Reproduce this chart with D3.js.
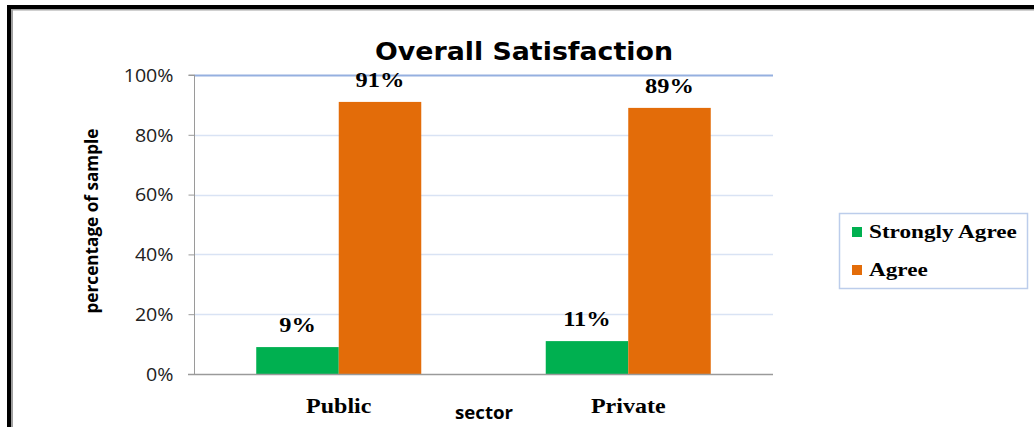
<!DOCTYPE html>
<html><head><meta charset="utf-8">
<script src="https://cdn.jsdelivr.net/npm/d3@7"></script>
<style>body{margin:0;background:#fff}svg{display:block}</style>
</head><body>
<svg id="c" width="1034" height="427"></svg>
<script>
const categories = ["Public", "Private"];
const seriesNames = ["Strongly Agree", "Agree"];
const strongly = [9, 11];
const agree = [91, 89];
const yTicks = [0, 20, 40, 60, 80, 100];
const colors = ["#00B050", "#E36C09"];

const svg = d3.select("#c");
function stretch(sel, f) {
  sel.each(function () {
    const L = this.getComputedTextLength();
    d3.select(this).attr("textLength", L * f).attr("lengthAdjust", "spacingAndGlyphs");
  });
}
// frame
svg.append("rect").attr("x", 7).attr("y", 5).attr("width", 1040).attr("height", 440).attr("fill", "#000");
svg.append("rect").attr("x", 11).attr("y", 9).attr("width", 1040).attr("height", 440).attr("fill", "#a0a0a0");
svg.append("rect").attr("x", 13).attr("y", 10.5).attr("width", 1040).attr("height", 440).attr("fill", "#fff");

const x0 = 194, x1 = 773, yTop = 75, yBot = 374;
const y = d3.scaleLinear().domain([0, 100]).range([yBot, yTop]);
const xb = d3.scaleBand().domain(categories).range([x0, x1]).paddingInner(0.43).paddingOuter(0.215);
const xs = d3.scaleBand().domain(seriesNames).range([0, xb.bandwidth()]);

// gridlines
svg.append("g").selectAll("line").data(yTicks.filter(t => t > 0)).join("line")
  .attr("x1", x0).attr("x2", x1).attr("y1", d => Math.round(y(d)) + 0.5).attr("y2", d => Math.round(y(d)) + 0.5)
  .attr("stroke", d => d === 100 ? "#95B0E0" : "#D9E3F4").attr("stroke-width", d => d === 100 ? 2 : 1.5);

// y axis
const ya = d3.axisLeft(y).tickValues(yTicks).tickFormat(d => d + "%").tickSize(6).tickPadding(15);
const yg = svg.append("g").attr("transform", `translate(${x0 + 0.5},0)`).call(ya);
yg.select(".domain").attr("stroke", "#9a9a9a").attr("d", `M-6,${yTop}H0V${yBot}`);
yg.selectAll(".tick line").attr("stroke", "#9a9a9a");
yg.selectAll(".tick text").attr("font-family", "'Open Sans', 'Liberation Sans', sans-serif")
  .attr("font-size", 17.5).attr("fill", "#222").attr("dy", "0.36em");
stretch(yg.selectAll(".tick text"), 1.12);

const data = categories.map((c, i) => ({c, vals: [strongly[i], agree[i]]}));
const groups = svg.append("g").selectAll("g").data(data).join("g")
  .attr("transform", d => `translate(${xb(d.c)},0)`);
groups.selectAll("rect").data(d => d.vals.map((v, j) => ({v, s: seriesNames[j], j}))).join("rect")
  .attr("x", d => xs(d.s)).attr("width", xs.bandwidth())
  .attr("y", d => y(d.v)).attr("height", d => yBot - y(d.v))
  .attr("fill", d => colors[d.j]);
const vl = groups.selectAll("text").data(d => d.vals.map((v, j) => ({v, s: seriesNames[j]}))).join("text")
  .attr("x", d => xs(d.s) + xs.bandwidth() / 2).attr("y", d => y(d.v) - 15)
  .attr("text-anchor", "middle").attr("font-family", "'Liberation Serif', serif").attr("font-weight", "bold")
  .attr("font-size", 20).attr("fill", "#000").text(d => d.v + "%");
stretch(vl, 1.22);

// x axis baseline
svg.append("line").attr("x1", x0 - 6).attr("x2", x1).attr("y1", yBot + 0.5).attr("y2", yBot + 0.5)
  .attr("stroke", "#9a9a9a").attr("stroke-width", 1.5);

// category labels
const cl = svg.append("g").selectAll("text").data(categories).join("text")
  .attr("x", d => xb(d) + xb.bandwidth() / 2).attr("y", 413)
  .attr("text-anchor", "middle").attr("font-family", "'Liberation Serif', serif").attr("font-weight", "bold")
  .attr("font-size", 20).attr("fill", "#000").text(d => d);
stretch(cl, 1.2);

// title
svg.append("text").attr("x", 524).attr("y", 60).attr("text-anchor", "middle")
  .attr("font-family", "'DejaVu Sans', 'Liberation Sans', sans-serif").attr("font-weight", "bold")
  .attr("font-size", 25).attr("textLength", 298).attr("lengthAdjust", "spacingAndGlyphs")
  .text("Overall Satisfaction");

// axis titles
svg.append("text").attr("transform", "translate(98,221) rotate(-90)").attr("text-anchor", "middle")
  .attr("font-family", "'Open Sans', 'Liberation Sans', sans-serif").attr("font-weight", "bold")
  .attr("font-size", 17).attr("textLength", 185).attr("lengthAdjust", "spacingAndGlyphs")
  .text("percentage of sample");
svg.append("text").attr("x", 484).attr("y", 419).attr("text-anchor", "middle")
  .attr("font-family", "'Open Sans', 'Liberation Sans', sans-serif").attr("font-weight", "bold")
  .attr("font-size", 17).attr("textLength", 58).attr("lengthAdjust", "spacingAndGlyphs")
  .text("sector");

// legend
const lg = svg.append("g");
lg.append("rect").attr("x", 839.5).attr("y", 213.5).attr("width", 188).attr("height", 75)
  .attr("fill", "#fff").attr("stroke", "#BCCDEB").attr("stroke-width", 1.5);
const li = lg.selectAll("g").data(seriesNames).join("g")
  .attr("transform", (d, i) => `translate(852,${227 + i * 38})`);
li.append("rect").attr("width", 10).attr("height", 10).attr("fill", (d, i) => colors[i]);
const lt = li.append("text").attr("x", 17).attr("y", 11).attr("font-family", "'Liberation Serif', serif")
  .attr("font-weight", "bold").attr("font-size", 19).attr("fill", "#000").text(d => d);
stretch(lt, 1.22);
</script>
</body></html>
